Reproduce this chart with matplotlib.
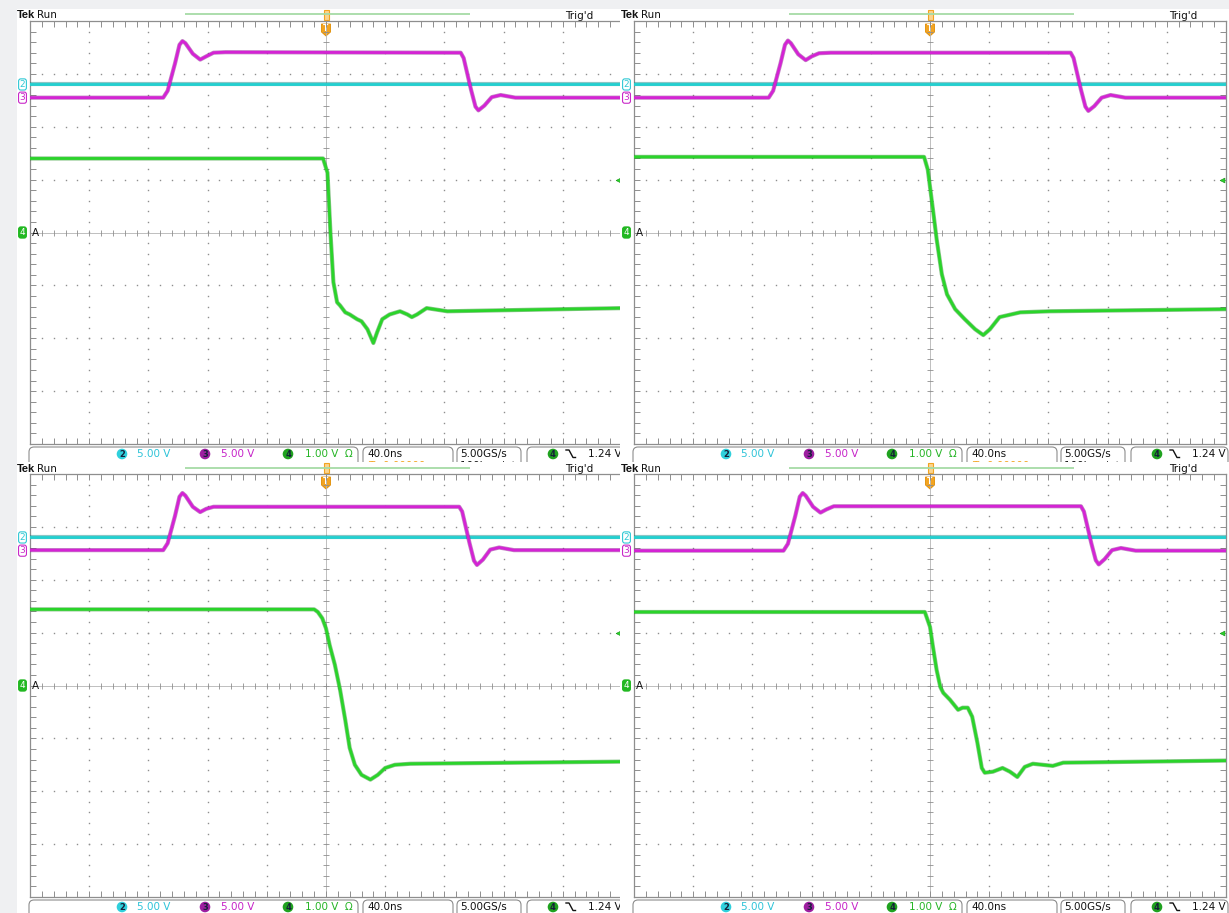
import numpy as np
import matplotlib
matplotlib.use("Agg")
import matplotlib.pyplot as plt
from matplotlib.patches import FancyBboxPatch, Circle, Rectangle, Polygon

W, H = 1229, 913
DPI = 100

# ---- acquisition settings shared by the four captures ----
TIME_PER_DIV_NS = 40.0
H_DIVS, V_DIVS = 10, 8
CH2_VOLTS_PER_DIV = 5.0
CH3_VOLTS_PER_DIV = 5.0
CH4_VOLTS_PER_DIV = 1.0
CH2_POSITION_DIV = 2.80
CH3_POSITION_DIV = 2.55
CH4_POSITION_DIV = 0.0
CH4_OFFSET_V = 0.24
TRIGGER_LEVEL_V = 1.24

CH2_SCALE_TEXT = "5.00 V"
CH3_SCALE_TEXT = "5.00 V"
CH4_SCALE_TEXT = "1.00 V  Ω"
TIMEBASE_TEXT = "40.0ns"
SAMPLE_RATE_TEXT = "5.00GS/s"
RECORD_TEXT = "100k points"
DELAY_TEXT = "T→0.00000 s"
TRIGGER_TEXT = "1.24 V"

# ---- waveforms: time in ns (trigger at 0), level in volts ----
# channel 2 (cyan) stays at its ground level in every capture
tl_ch2_t = [-200, 200]
tl_ch2_v = [0.0, 0.0]
tr_ch2_t = [-200, 200]
tr_ch2_v = [0.0, 0.0]
bl_ch2_t = [-200, 200]
bl_ch2_v = [0.0, 0.0]
br_ch2_t = [-200, 200]
br_ch2_v = [0.0, 0.0]

# channel 3 (magenta) gate pulse
tl_ch3_t = [-200, -110, -107, -102, -99, -97, -95, -90, -85, -81, -76, -68,
            91, 93, 98, 101, 103, 107, 112, 118, 128, 200]
tl_ch3_v = [0.0, 0.0, 0.65, 3.25, 5.0, 5.35, 5.15, 4.15, 3.6, 3.9, 4.25, 4.3,
            4.25, 3.75, 0.75, -0.85, -1.2, -0.75, 0.05, 0.25, 0.0, 0.0]
tr_ch3_t = [-200, -109, -106, -101, -98, -96, -94, -89, -84, -80, -75, -67,
            95, 97, 102, 105, 107, 111, 116, 122, 132, 200]
tr_ch3_v = [0.0, 0.0, 0.65, 3.25, 5.0, 5.4, 5.15, 4.1, 3.55, 3.9, 4.2, 4.25,
            4.25, 3.75, 0.75, -0.85, -1.25, -0.8, 0.0, 0.25, 0.0, 0.0]
bl_ch3_t = [-200, -110, -107, -102, -99, -97, -95, -90, -85, -81, -76, -68,
            90, 92, 97, 100, 102, 106, 111, 117, 127, 200]
bl_ch3_v = [0.05, 0.05, 0.7, 3.3, 5.1, 5.45, 5.2, 4.15, 3.65, 3.95, 4.15, 4.15,
            4.15, 3.7, 0.7, -0.95, -1.35, -0.85, 0.1, 0.3, 0.05, 0.05]
br_ch3_t = [-200, -99, -96, -91, -88, -86, -84, -79, -74, -70, -65, -57,
            102, 104, 109, 112, 114, 118, 123, 129, 139, 200]
br_ch3_v = [0.0, 0.0, 0.65, 3.3, 5.1, 5.45, 5.2, 4.15, 3.6, 3.9, 4.2, 4.2,
            4.2, 3.7, 0.7, -0.9, -1.3, -0.8, 0.05, 0.25, 0.0, 0.0]

# channel 4 (green) drain node falling edge
tl_ch4_t = [-200, -2, 1, 3, 5, 7.5, 9.5, 13, 16, 21, 24, 28, 32, 34.5, 38,
            43, 50, 55, 58, 61.5, 68, 82, 200]
tl_ch4_v = [1.64, 1.64, 1.37, 0.24, -0.70, -1.08, -1.14, -1.27, -1.31, -1.40,
            -1.44, -1.59, -1.85, -1.65, -1.40, -1.31, -1.25, -1.31, -1.36,
            -1.31, -1.19, -1.25, -1.19]
tr_ch4_t = [-200, -4, -1.5, 2, 4.5, 8, 11.5, 17, 23.5, 30.5, 36, 40.5, 47,
            61, 81, 200]
tr_ch4_v = [1.67, 1.67, 1.43, 0.67, 0.11, -0.55, -0.93, -1.21, -1.40, -1.59,
            -1.70, -1.59, -1.36, -1.27, -1.25, -1.21]
bl_ch4_t = [-200, -8, -5.5, -2.5, 0, 2.5, 6, 9.5, 13, 16, 19.5, 24, 30, 35,
            40, 46.5, 57, 200]
bl_ch4_v = [1.68, 1.68, 1.63, 1.51, 1.32, 1.00, 0.63, 0.16, -0.41, -0.94,
            -1.26, -1.45, -1.54, -1.45, -1.32, -1.26, -1.24, -1.20]
br_ch4_t = [-200, -3.5, 0, 2, 4.5, 7, 9, 13.5, 19, 22, 25.5, 28.5, 32, 35,
            37, 42.5, 49, 54, 59, 64, 69.5, 83, 90, 200]
br_ch4_v = [1.63, 1.63, 1.35, 0.97, 0.53, 0.21, 0.10, -0.03, -0.22, -0.18,
            -0.18, -0.35, -0.84, -1.32, -1.41, -1.39, -1.32, -1.39, -1.49,
            -1.30, -1.24, -1.28, -1.22, -1.18]

CAPTURES = [
    dict(ox=0, oy=0, ch2=(tl_ch2_t, tl_ch2_v), ch3=(tl_ch3_t, tl_ch3_v), ch4=(tl_ch4_t, tl_ch4_v)),
    dict(ox=604, oy=0, ch2=(tr_ch2_t, tr_ch2_v), ch3=(tr_ch3_t, tr_ch3_v), ch4=(tr_ch4_t, tr_ch4_v)),
    dict(ox=0, oy=453, ch2=(bl_ch2_t, bl_ch2_v), ch3=(bl_ch3_t, bl_ch3_v), ch4=(bl_ch4_t, bl_ch4_v)),
    dict(ox=604, oy=453, ch2=(br_ch2_t, br_ch2_v), ch3=(br_ch3_t, br_ch3_v), ch4=(br_ch4_t, br_ch4_v)),
]

# ---- colours ----
BG_GREY = "#eff0f2"
CYAN, CYAN_DK = "#22d0d0", "#168c8c"
MAGENTA, MAGENTA_DK = "#d423d4", "#86158a"
GREEN, GREEN_DK = "#2ad42a", "#178a17"
GRID = "#8e8e8e"
ORANGE = "#f3a421"

FONT = ["DejaVu Sans"]

fig = plt.figure(figsize=(W / DPI, H / DPI), dpi=DPI, facecolor=BG_GREY)


def to_div(volts, volts_per_div, position, offset=0.0):
    return (np.asarray(volts, dtype=float) - offset) / volts_per_div + position


def pixel_axes(x0, y0, x1, y1, face="white"):
    ax = fig.add_axes([x0 / W, 1 - y1 / H, (x1 - x0) / W, (y1 - y0) / H])
    ax.set_xlim(x0, x1)
    ax.set_ylim(y1, y0)
    ax.set_xticks([])
    ax.set_yticks([])
    for s in ax.spines.values():
        s.set_visible(False)
    ax.set_facecolor(face)
    return ax


def txt(ax, x, y, s, color="#111111", size=7.5, **kw):
    kw.setdefault("ha", "left")
    kw.setdefault("va", "center")
    kw.setdefault("family", FONT)
    ax.text(x, y, s, color=color, fontsize=size, clip_on=True, **kw)


def chan_badge(ax, x, y, num, face):
    ax.add_patch(Circle((x, y), 5.3, fc=face, ec="none"))
    ax.text(x, y + 0.3, num, ha="center", va="center", fontsize=6, color="#15203a",
            fontweight="bold", family=FONT, clip_on=True)


def draw_frame(ox, oy):
    x0, x1 = (17, 620) if ox == 0 else (620, 1229)
    y0, y1 = (9, 462) if oy == 0 else (462, 913)
    ov = pixel_axes(x0, y0, x1, y1)
    X = lambda v: v + ox
    Y = lambda v: v + oy

    # header
    txt(ov, X(16.5), Y(15.5), "Tek", size=8, fontweight="bold", family=["Liberation Sans"])
    txt(ov, X(36.5), Y(15.5), "Run", size=7.5)
    txt(ov, X(565), Y(16), "Trig'd", size=7.5)
    ov.plot([X(185), X(470)], [Y(14.5), Y(14.5)], color="#a6dba6", lw=1.3,
            solid_capstyle="butt")
    cx = X(30 + 296)
    ov.add_patch(Rectangle((cx - 2, Y(10)), 4.5, 10, fc="#fbd48e", ec=ORANGE, lw=0.8))
    ov.add_patch(Polygon([(cx - 4.5, Y(24)), (cx + 4.5, Y(24)), (cx + 4.5, Y(32)),
                          (cx, Y(36)), (cx - 4.5, Y(32))], closed=True,
                         fc=ORANGE, ec="#e08c00", lw=0.6, zorder=5))
    ov.text(cx, Y(28.5), "T", ha="center", va="center", fontsize=5.5, color="white",
            fontweight="bold", zorder=6, clip_on=True)

    # status bar boxes
    for bx0, bx1 in [(29, 358), (363, 453), (457, 521), (527, 624)]:
        ov.add_patch(FancyBboxPatch((X(bx0), Y(447)), bx1 - bx0, 30,
                                    boxstyle="round,pad=0,rounding_size=5",
                                    fc="white", ec="#8c8c8c", lw=0.8))
    sy = Y(454)
    chan_badge(ov, X(122), sy, "2", "#2fd0dc")
    txt(ov, X(137), sy, CH2_SCALE_TEXT, color="#2ec3d8")
    chan_badge(ov, X(205), sy, "3", "#9d1ea0")
    txt(ov, X(221), sy, CH3_SCALE_TEXT, color="#c623c8")
    chan_badge(ov, X(288), sy, "4", "#1fa21f")
    txt(ov, X(305), sy, CH4_SCALE_TEXT, color="#25b425")
    txt(ov, X(367), sy, TIMEBASE_TEXT)
    txt(ov, X(460), sy, SAMPLE_RATE_TEXT)
    chan_badge(ov, X(553), sy, "4", "#1fa21f")
    ov.plot([X(566), X(569), X(573), X(575.5)],
            [Y(450), Y(450), Y(457.5), Y(457.5)], color="#111111", lw=1.0)
    txt(ov, X(588), sy, TRIGGER_TEXT)
    # second status row only peeks out from under the upper captures
    if oy == 0:
        txt(ov, X(368), Y(466), DELAY_TEXT, color=ORANGE)
        txt(ov, X(460), Y(466), RECORD_TEXT)


def draw_graticule(cap):
    ox, oy = cap["ox"], cap["oy"]
    gx0, gy0, gw, gh = 30 + ox, 21 + oy, 592, 423
    half_t = TIME_PER_DIV_NS * H_DIVS / 2
    ax = fig.add_axes([gx0 / W, 1 - (gy0 + gh) / H, gw / W, gh / H])
    ax.set_xlim(-half_t, half_t)
    ax.set_ylim(-V_DIVS / 2, V_DIVS / 2)
    ax.patch.set_alpha(0)

    ax.set_xticks(np.arange(-half_t, half_t + 1, TIME_PER_DIV_NS))
    ax.set_xticks(np.arange(-half_t, half_t + 1, TIME_PER_DIV_NS / 5), minor=True)
    ax.set_yticks(np.arange(-4, 5, 1))
    ax.set_yticks(np.arange(-4, 4.01, 0.2), minor=True)
    right = ox != 0
    ax.tick_params(which="both", direction="in", length=4, width=0.7, color=GRID,
                   top=True, bottom=True, left=True, right=right,
                   labelbottom=False, labelleft=False)
    for name, s in ax.spines.items():
        s.set_color(GRID)
        s.set_linewidth(0.9)
    if not right:
        ax.spines["right"].set_visible(False)

    # dotted division lines
    xdots = np.arange(-half_t + 8, half_t - 1, TIME_PER_DIV_NS / 5)
    ydots = np.arange(-3.8, 3.81, 0.2)
    major_x = [x for x in np.arange(-160, 161, 40) if x != 0]
    major_y = [y for y in range(-3, 4) if y != 0]
    ax.plot(np.repeat(major_x, len(ydots)), np.tile(ydots, len(major_x)),
            ls="none", marker="s", ms=1.0, mew=0, color=GRID, zorder=1)
    ax.plot(np.tile(xdots, len(major_y)), np.repeat(major_y, len(xdots)),
            ls="none", marker="s", ms=1.0, mew=0, color=GRID, zorder=1)
    # centre cross with minor ticks
    ax.axhline(0, color="#b4b4b4", lw=0.6, zorder=1)
    ax.axvline(0, color="#b4b4b4", lw=0.6, zorder=1)
    ax.plot(xdots, np.zeros_like(xdots), ls="none", marker="|", ms=4.5, mew=0.6,
            color=GRID, zorder=1)
    ax.plot(np.zeros_like(ydots), ydots, ls="none", marker="_", ms=4.5, mew=0.6,
            color=GRID, zorder=1)

    # traces
    t2, v2 = cap["ch2"]
    t3, v3 = cap["ch3"]
    t4, v4 = cap["ch4"]
    traces = [
        (t2, to_div(v2, CH2_VOLTS_PER_DIV, CH2_POSITION_DIV), CYAN, CYAN_DK, 3),
        (t3, to_div(v3, CH3_VOLTS_PER_DIV, CH3_POSITION_DIV), MAGENTA, MAGENTA_DK, 4),
        (t4, to_div(v4, CH4_VOLTS_PER_DIV, CH4_POSITION_DIV, CH4_OFFSET_V), GREEN, GREEN_DK, 5),
    ]
    for t, d, col, dk, z in traces:
        ax.plot(t, d, color=dk, lw=3.0, alpha=0.5, zorder=z, solid_joinstyle="round")
        ax.plot(t, d, color=col, lw=2.0, zorder=z + 0.1, solid_joinstyle="round")

    # channel ground markers on the left edge
    ty = ax.get_yaxis_transform()
    mx = -7.5 / gw
    for pos, num, col, filled in [(CH2_POSITION_DIV, "2", "#2fc8d4", False),
                                  (CH3_POSITION_DIV, "3", "#c928c9", False),
                                  (CH4_POSITION_DIV, "4", "#22b822", True)]:
        ax.text(mx, pos, num, transform=ty, ha="center", va="center", fontsize=6.5,
                family=FONT, color=("white" if filled else col), clip_on=False, zorder=10,
                bbox=dict(boxstyle="round,pad=0.12,rounding_size=0.25",
                          fc=(col if filled else "white"), ec=col, lw=0.8))
    ax.text(1.5 / gw, CH4_POSITION_DIV, "A", transform=ty, ha="left", va="center",
            fontsize=7.5, family=FONT, color="#111111", clip_on=False, zorder=10)
    # trigger level marker on the right edge
    trig_div = to_div(TRIGGER_LEVEL_V, CH4_VOLTS_PER_DIV, CH4_POSITION_DIV, CH4_OFFSET_V)
    ax.plot([(gw - 4.5) / gw], [trig_div], transform=ty, marker="<", ms=3.5,
            color=GREEN, mec=GREEN_DK, mew=0.4, clip_on=False, zorder=10)
    return ax


for cap in CAPTURES:
    draw_frame(cap["ox"], cap["oy"])
    draw_graticule(cap)

fig.savefig("out.png", dpi=DPI, facecolor=BG_GREY)
